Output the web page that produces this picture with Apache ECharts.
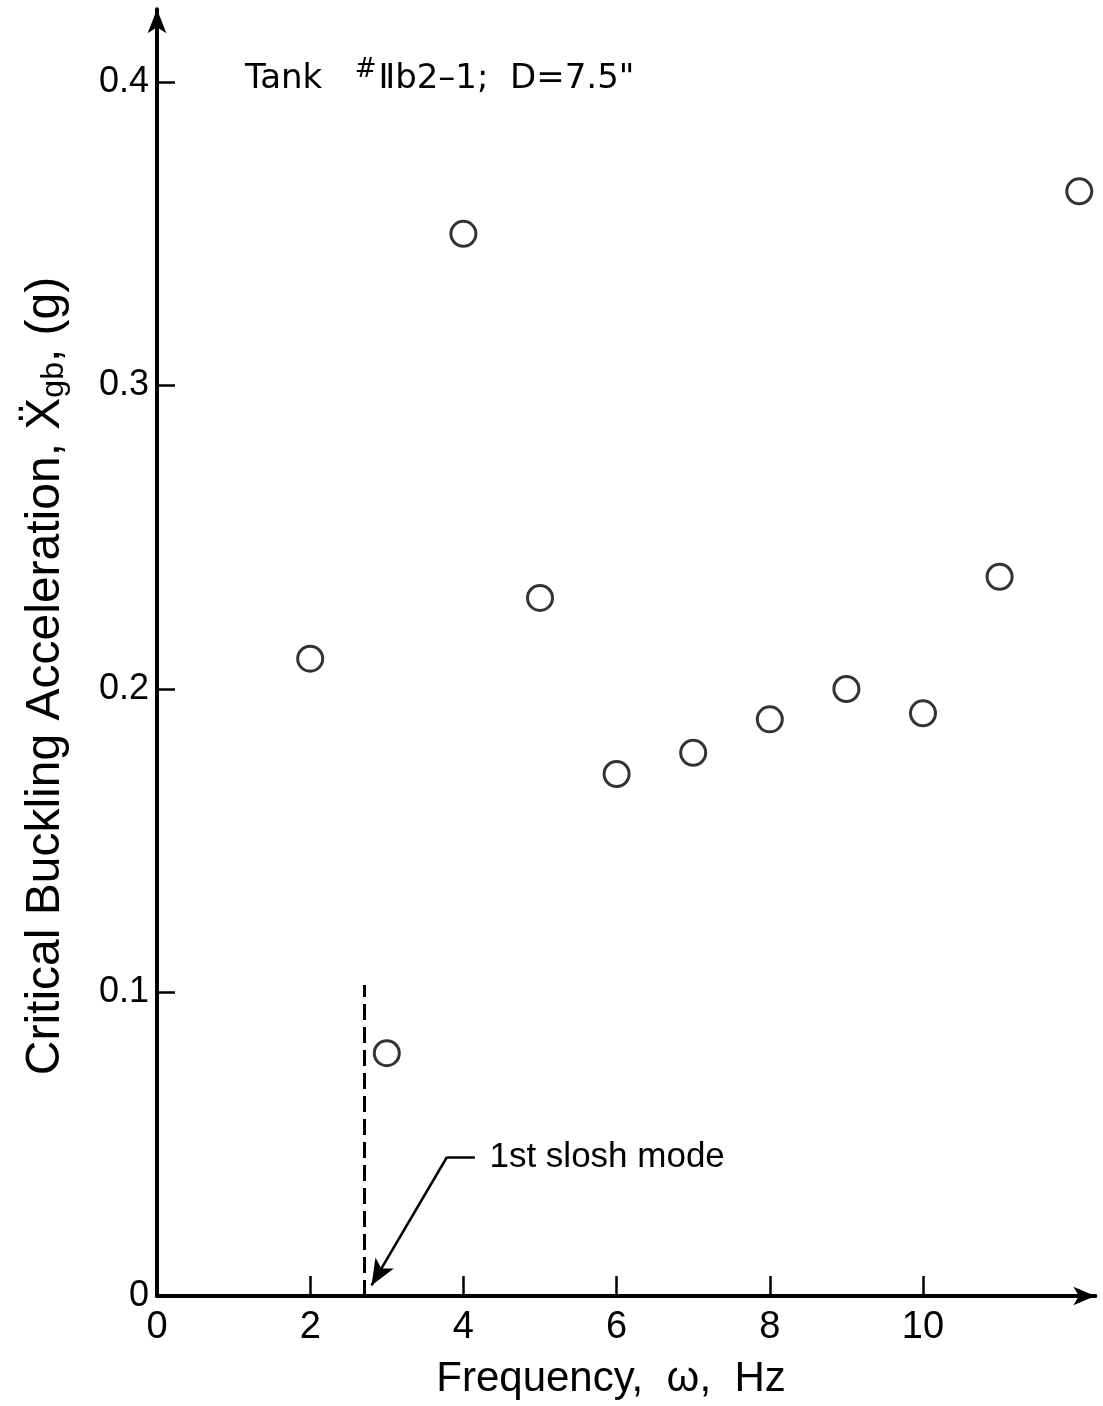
<!DOCTYPE html>
<html>
<head>
<meta charset="utf-8">
<script src="https://cdn.jsdelivr.net/npm/echarts@6/dist/echarts.min.js"></script>
<style>html,body{margin:0;padding:0;background:#fff}#c{width:1103px;height:1406px}</style>
</head>
<body>
<div id="c"></div>
<script>
// Data
var frequency = [2, 3, 4, 5, 6, 7, 8, 9, 10, 11, 12.04];
var acceleration = [0.21, 0.08, 0.35, 0.23, 0.172, 0.179, 0.19, 0.2, 0.192, 0.237, 0.364];
var xTicks = [0, 2, 4, 6, 8, 10];
var yTicks = [0, 0.1, 0.2, 0.3, 0.4];
var sloshFreq = 2.70;       // dashed line position (Hz)
var sloshTop = 0.1025;      // dashed line top (g)
var leaderPts = [[4.15, 0.0458], [3.786, 0.0458], [2.80, 0.0035]];
var annotationText = '1st slosh mode';

var FONT = '"Liberation Sans", "DejaVu Sans", sans-serif';
var FONT2 = '"DejaVu Sans", "Liberation Sans", sans-serif';
var chart = echarts.init(document.getElementById('c'));
var pts = frequency.map(function (f, i) { return [f, acceleration[i]]; });

chart.setOption({
  animation: false,
  backgroundColor: '#fff',
  grid: { left: 157, right: 7.65, top: 9.2, bottom: 110, containLabel: false },
  xAxis: {
    type: 'value', min: 0, max: 12.25,
    axisLine: { show: true, onZero: false, symbol: ['none', 'arrow'], symbolSize: [14, 22],
      lineStyle: { color: '#000', width: 4 } },
    axisTick: { show: true, inside: true, length: 20, customValues: xTicks,
      lineStyle: { color: '#000', width: 2.5 } },
    axisLabel: { customValues: xTicks, color: '#000', fontFamily: FONT, fontSize: 38, margin: 13 },
    splitLine: { show: false }
  },
  yAxis: {
    type: 'value', min: 0, max: 0.424,
    axisLine: { show: true, onZero: false, symbol: ['none', 'arrow'], symbolSize: [14, 24],
      lineStyle: { color: '#000', width: 4 } },
    axisTick: { show: true, inside: true, length: 18, customValues: yTicks,
      lineStyle: { color: '#000', width: 2.5 } },
    axisLabel: { customValues: yTicks, color: '#000', fontFamily: FONT, fontSize: 36, margin: 8,
      formatter: function (v) { return v === 0 ? '0' : v.toFixed(1); } },
    splitLine: { show: false }
  },
  series: [{
    type: 'scatter',
    data: pts,
    symbol: 'circle',
    symbolSize: 25,
    itemStyle: { color: '#fff', borderColor: '#000', borderWidth: 3 },
    markLine: {
      silent: true,
      symbol: ['none', 'none'],
      label: { show: false },
      data: [
        [{ coord: [sloshFreq, 0], lineStyle: { color: '#000', width: 3, type: [16, 7] } },
         { coord: [sloshFreq, sloshTop] }],
        [{ coord: leaderPts[0], lineStyle: { color: '#000', width: 2.5, type: 'solid' } },
         { coord: leaderPts[1] }],
        [{ coord: leaderPts[1], lineStyle: { color: '#000', width: 2.5, type: 'solid' } },
         { coord: leaderPts[2], symbol: 'arrow', symbolSize: [16, 26] }]
      ]
    },
    markPoint: {
      silent: true,
      symbol: 'circle', symbolSize: 0,
      data: [{ coord: [4.34, 0.0458], value: annotationText }],
      label: { show: true, position: 'right', distance: 0, color: '#000', fontFamily: FONT, fontSize: 35,
        formatter: function () { return annotationText; } }
    }
  }],
  graphic: [
    { type: 'text', left: 245, top: 57,
      style: {
        text: 'Tank   {sup|#}{r|Ⅱ}b2–1;  D=7.5"',
        font: '34px ' + FONT2, fill: '#000',
        rich: {
          sup: { fontSize: 26, fontFamily: FONT2, verticalAlign: 'top', padding: [0, 2, 18, 0], fill: '#000' },
          r: { fontSize: 34, fontFamily: FONT2, fill: '#000' }
        }
      } },
    { type: 'text', x: 46, y: 676, rotation: Math.PI / 2,
      style: {
        text: 'Critical Buckling Acceleration, Ẍ{sub|gb}, (g)',
        font: '48px ' + FONT, fill: '#000', align: 'center', verticalAlign: 'middle',
        rich: { sub: { fontSize: 32, fontFamily: FONT, padding: [16, 0, 0, 0], fill: '#000' } }
      } },
    { type: 'text', x: 611, y: 1379,
      style: { text: 'Frequency,  ω,  Hz', font: '42px ' + FONT, fill: '#000', align: 'center', verticalAlign: 'middle' } }
  ]
});
</script>
</body>
</html>
